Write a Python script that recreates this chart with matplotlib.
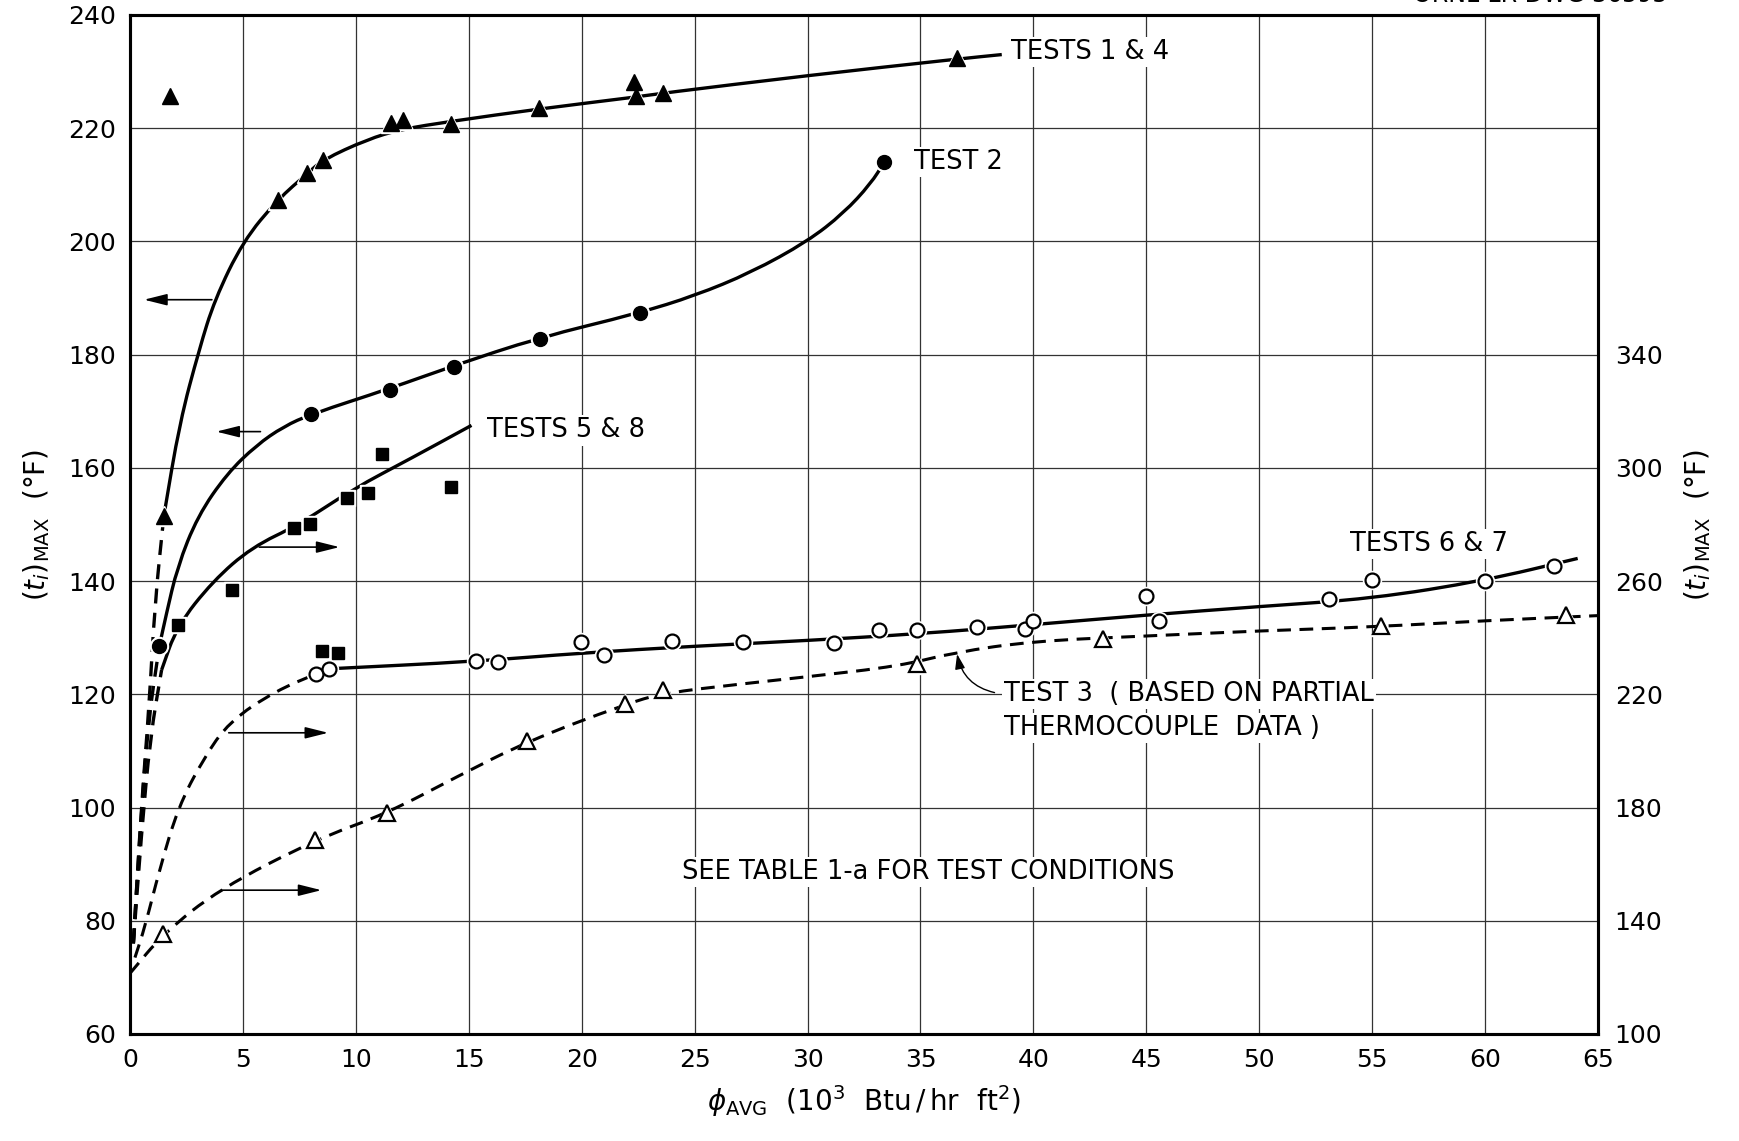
import numpy as np
import matplotlib
matplotlib.use("Agg")
import matplotlib.pyplot as plt
from matplotlib.path import Path
from matplotlib.patches import PathPatch

plt.rcParams['font.family'] = ['DejaVu Sans']
plt.rcParams['mathtext.fontset'] = 'dejavusans'

# ---- measured points ----
# tests 1 & 4, left scale (F)
phi_14 = [1.77, 1.5, 6.54, 7.86, 8.53, 11.55, 12.1, 14.2, 18.1, 22.33, 22.4, 23.6, 36.6]
t_14 = [225.6, 151.5, 207.4, 212.1, 214.4, 221.0, 221.5, 220.8, 223.5, 228.2, 225.6, 226.3, 232.4]

# test 2, left scale
phi_2 = [1.3, 8.03, 11.53, 14.34, 18.14, 22.6, 33.4]
t_2 = [128.5, 169.5, 173.8, 177.9, 182.8, 187.3, 214.0]

# tests 5 & 8, right scale
phi_58 = [2.12, 4.5, 7.26, 7.96, 9.63, 10.54, 11.15, 14.23, 8.51, 9.21]
t_58 = [244.4, 257.0, 278.8, 280.2, 289.4, 291.2, 305.0, 293.2, 235.2, 234.6]

# tests 6 & 7, right scale
phi_67 = [8.23, 8.82, 15.3, 16.3, 19.95, 21.0, 24.0, 27.16, 31.15, 33.17, 34.85,
          37.5, 39.65, 40.0, 45.0, 45.55, 53.07, 55.0, 60.0, 63.04]
t_67 = [227.2, 229.0, 231.6, 231.4, 238.6, 234.0, 239.0, 238.6, 238.2, 242.6, 242.8,
        243.8, 243.2, 245.8, 254.8, 245.8, 253.8, 260.4, 260.2, 265.2]

# test 3, right scale
phi_3 = [1.47, 8.2, 11.4, 17.6, 21.9, 23.6, 34.85, 43.1, 55.4, 63.6]
t_3 = [135.4, 168.6, 178.0, 203.4, 216.4, 221.4, 230.6, 239.4, 244.0, 248.0]

# ---- faired curves (knots) ----
c14_dash_x = [0.15, 0.5, 0.85, 1.1, 1.5]
c14_dash_y = [76, 100, 118, 136, 151.5]
c14_x = [1.5, 2.2, 3.07, 3.75, 5.0, 6.54, 7.86, 8.53, 10.5, 12.0, 14.2, 18.1, 22.4, 23.6, 30.0, 36.6, 38.6]
c14_y = [151.5, 168, 181, 189.7, 200, 207.4, 212, 214.4, 218, 219.8, 221.2, 223.4, 225.5, 226.2, 229.3, 232.2, 233.0]

c2_dash_x = [0.15, 0.45, 0.8, 1.3]
c2_dash_y = [76, 96, 115, 128.5]
c2_x = [1.3, 1.6, 2.1, 3.0, 4.3, 5.6, 6.8, 8.03, 11.5, 14.3, 18.1, 22.5, 25.0, 27.5, 30.0, 31.6, 32.8, 33.4]
c2_y = [128.5, 134, 142.5, 151.5, 159, 164, 167.3, 169.5, 174, 178, 183, 187.3, 190.4, 194.5, 200, 205, 210.2, 214]

c58_dash_x = [0.15, 0.5, 0.9, 1.4]
c58_dash_y = [132, 170, 205, 228.6]
c58_x = [1.4, 2.08, 3.67, 5.4, 7.5, 9.85, 12.5, 15.12]
c58_y = [228.6, 244, 260, 272, 280, 292.4, 303.6, 315]

c67_dash_x = [0.22, 0.66, 1.32, 2.13, 3.23, 4.4, 6.45, 8.3]
c67_dash_y = [127, 137.8, 158.4, 180, 197, 210.4, 221.2, 227.4]
c67_x = [8.8, 15.3, 20.0, 25.0, 30.0, 35.0, 40.0, 45.0, 50.0, 55.0, 60.0, 64.1]
c67_y = [229, 231.6, 234.6, 237, 239, 241.4, 244.6, 248, 251, 253.8, 260.2, 268]

c3_x = [0, 1.47, 3.96, 8.2, 11.4, 14.5, 17.6, 21.9, 23.6, 27.0, 30.0, 34.1, 36.5, 40.0, 45.0, 50.0, 55.0, 60.0, 65.0]
c3_y = [121.4, 135.4, 151.2, 168.6, 178, 191, 203.4, 216.4, 220.4, 223.6, 226.2, 230, 234.8, 238.8, 240.6, 242.4, 243.8, 246, 247.8]

x_ticks = np.arange(0, 66, 5)
left_ticks = np.arange(60, 241, 20)
right_ticks = np.arange(100, 341, 40)


def faired(ax, xs, ys, dashed=False, lw=2.4):
    # quadratic spline through midpoints of the knots
    pts = np.column_stack([xs, ys]).astype(float)
    verts = [pts[0]]
    codes = [Path.MOVETO]
    if len(pts) > 2:
        mids = (pts[:-1] + pts[1:]) / 2
        verts.append(mids[0])
        codes.append(Path.LINETO)
        for i in range(1, len(pts) - 1):
            verts += [pts[i], mids[i]]
            codes += [Path.CURVE3, Path.CURVE3]
    verts.append(pts[-1])
    codes.append(Path.LINETO)
    ls = (0, (4.5, 2.8)) if dashed else '-'
    patch = PathPatch(Path(verts, codes), fill=False, lw=lw, ls=ls,
                      edgecolor='black', capstyle='butt', zorder=3)
    ax.add_patch(patch)


def points(ax, xs, ys, marker, size, filled=True):
    ax.plot(xs, ys, ls='none', marker=marker, ms=size + 3, mfc='white', mec='white', zorder=4)
    if filled:
        ax.plot(xs, ys, ls='none', marker=marker, ms=size, mfc='black', mec='black', zorder=5)
    else:
        ax.plot(xs, ys, ls='none', marker=marker, ms=size, mfc='white', mec='black',
                mew=1.6, zorder=5)


fig = plt.figure(figsize=(17.4, 11.41), dpi=100)
ax = fig.add_axes([0.0747, 0.0938, 0.8437, 0.8931])
ax2 = ax.twinx()

ax.set_xlim(0, 65)
ax.set_ylim(60, 240)
ax2.set_ylim(100, 460)

ax.set_xticks(x_ticks)
ax.set_yticks(left_ticks)
ax2.set_yticks(right_ticks)
ax.grid(True, color='#333333', lw=0.9)
ax.tick_params(length=0, labelsize=18, pad=10)
ax2.tick_params(length=0, labelsize=18, pad=12)
for a in (ax, ax2):
    for s in a.spines.values():
        s.set_linewidth(2.2)

ax.set_zorder(ax2.get_zorder() + 1)
ax.patch.set_visible(False)

# left-scale series
faired(ax, c14_dash_x, c14_dash_y, dashed=True)
faired(ax, c14_x, c14_y)
faired(ax, c2_dash_x, c2_dash_y, dashed=True)
faired(ax, c2_x, c2_y)
points(ax, phi_14, t_14, '^', 12)
points(ax, phi_2, t_2, 'o', 10)

# right-scale series (drawn on the left axes through the scale relation)
to_left = lambda v: (np.asarray(v, dtype=float) + 20) / 2
faired(ax, c58_dash_x, to_left(c58_dash_y), dashed=True)
faired(ax, c58_x, to_left(c58_y))
faired(ax, c67_dash_x, to_left(c67_dash_y), dashed=True, lw=2.2)
faired(ax, c67_x, to_left(c67_y))
faired(ax, c3_x, to_left(c3_y), dashed=True, lw=2.2)
points(ax, phi_58, to_left(t_58), 's', 9)
points(ax, phi_67, to_left(t_67), 'o', 10, filled=False)
points(ax, phi_3, to_left(t_3), '^', 11, filled=False)

# scale arrows
arrow = dict(arrowstyle='-|>,head_length=1.4,head_width=0.35', lw=1.2, color='black')
ax.annotate('', xy=(0.5, 189.7), xytext=(3.75, 189.7), arrowprops=arrow, zorder=2)
ax.annotate('', xy=(3.7, 166.4), xytext=(5.9, 166.4), arrowprops=arrow, zorder=2)
ax.annotate('', xy=(9.4, 146), xytext=(5.6, 146), arrowprops=arrow, zorder=2)
ax.annotate('', xy=(8.9, 113.2), xytext=(4.25, 113.2), arrowprops=arrow, zorder=2)
ax.annotate('', xy=(8.6, 85.4), xytext=(3.96, 85.4), arrowprops=arrow, zorder=2)

box = dict(facecolor='white', edgecolor='none', pad=1.5)
lab = dict(fontsize=18.5, va='center', ha='left', bbox=box, zorder=6)
ax.text(39.0, 233.5, 'TESTS 1 & 4', **lab)
ax.text(34.7, 214.0, 'TEST 2', **lab)
ax.text(15.8, 166.6, 'TESTS 5 & 8', **lab)
ax.text(54.0, 146.5, 'TESTS 6 & 7', **lab)
ax.text(38.7, 120.0, 'TEST 3  ( BASED ON PARTIAL', **lab)
ax.text(38.7, 114.0, 'THERMOCOUPLE  DATA )', **lab)
ax.text(24.45, 88.6, 'SEE TABLE 1-a FOR TEST CONDITIONS', **lab)
ax.annotate('', xy=(36.6, 127.6), xytext=(38.4, 120.2),
            arrowprops=dict(arrowstyle='-|>,head_length=0.9,head_width=0.3', lw=1.0,
                            color='black', connectionstyle='arc3,rad=-0.35'), zorder=6)

ax.set_xlabel(r'$\phi_{\mathrm{AVG}}\ \ \left(10^3\ \ \mathrm{Btu\,/\,hr\ \ ft^2}\right)$',
              fontsize=20, labelpad=8)
ax.set_ylabel(r'$(t_i)_{\mathrm{MAX}}\ \ (\degree\mathrm{F})$', fontsize=20, labelpad=12)
ax2.set_ylabel(r'$(t_i)_{\mathrm{MAX}}\ \ (\degree\mathrm{F})$', fontsize=20, labelpad=14)

fig.text(0.885, 1.004, 'ORNL-LR-DWG 36595', fontsize=17, ha='center', va='center')

fig.savefig('out.png', dpi=100)
